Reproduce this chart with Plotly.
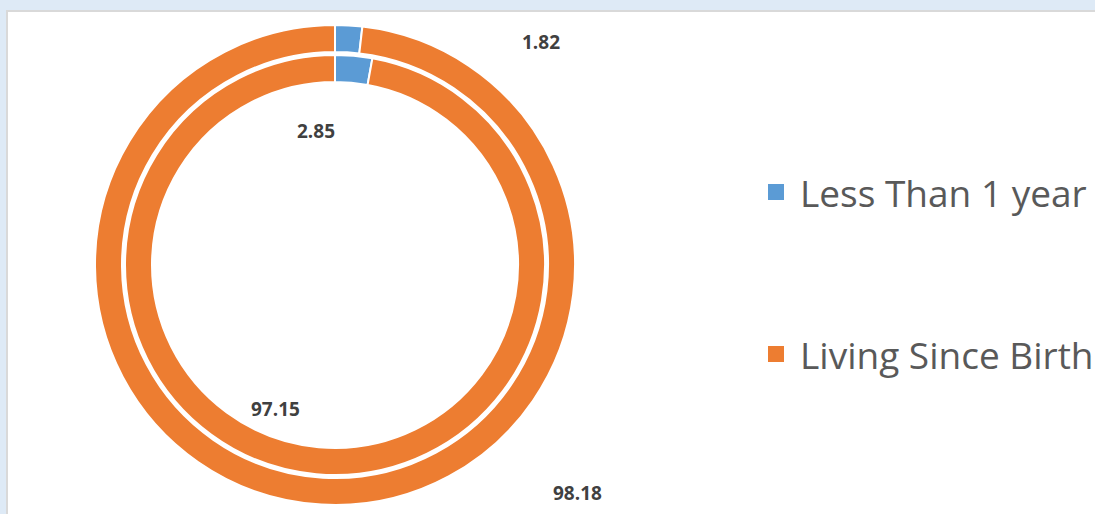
import plotly.graph_objects as go

# Residence duration shares (%), two rings
categories = ["Less Than 1 year", "Living Since Birth"]
outer_values = [1.82, 98.18]
inner_values = [2.85, 97.15]
colors = ["#5B9BD5", "#ED7D31"]

W, H = 1095, 514


def px_x(x):
    return x / W


def px_y(y):
    return (H - y) / H


def ring_domain(cx, cy, r):
    return dict(x=[px_x(cx - r), px_x(cx + r)], y=[px_y(cy + r), px_y(cy - r)])


cx, cy = 335, 265

fig = go.Figure()
fig.add_trace(go.Pie(
    labels=categories, values=outer_values, hole=213 / 240,
    domain=ring_domain(cx, cy, 240), sort=False, direction="clockwise",
    rotation=0, textinfo="none", hoverinfo="label+value",
    marker=dict(colors=colors, line=dict(color="white", width=2)),
    showlegend=False,
))
fig.add_trace(go.Pie(
    labels=categories, values=inner_values, hole=183 / 210,
    domain=ring_domain(cx, cy, 210), sort=False, direction="clockwise",
    rotation=0, textinfo="none", hoverinfo="label+value",
    marker=dict(colors=colors, line=dict(color="white", width=2)),
    showlegend=False,
))

# Data labels
label_font = dict(family="'Open Sans', sans-serif", size=19, color="#404040")
label_pos = {
    ("outer", 0): (541, 42), ("outer", 1): (577, 493),
    ("inner", 0): (316, 131), ("inner", 1): (275, 409),
}
annotations = []
for ring, vals in (("outer", outer_values), ("inner", inner_values)):
    for i, v in enumerate(vals):
        x, y = label_pos[(ring, i)]
        annotations.append(dict(
            x=px_x(x), y=px_y(y), xref="paper", yref="paper",
            text=f"<b>{v:.2f}</b>", showarrow=False, font=label_font,
            xanchor="center", yanchor="middle",
        ))

# Legend drawn as swatches and text
shapes = [
    dict(type="rect", xref="paper", yref="paper",
         x0=px_x(7), x1=px_x(1110), y0=px_y(530), y1=px_y(11),
         fillcolor="white", line=dict(color="#D9D9D9", width=2), layer="below"),
]
legend_rows = [192, 354]
for name, color, y in zip(categories, colors, legend_rows):
    shapes.append(dict(type="rect", xref="paper", yref="paper",
                       x0=px_x(768), x1=px_x(784), y0=px_y(y + 8), y1=px_y(y - 8),
                       fillcolor=color, line=dict(width=0)))
    annotations.append(dict(
        x=px_x(798), y=px_y(y), xref="paper", yref="paper", text=name,
        showarrow=False, xanchor="left", yanchor="middle",
        font=dict(family="'Open Sans', sans-serif", size=37, color="#595959"),
    ))

fig.update_layout(
    width=W, height=H, margin=dict(l=0, r=0, t=0, b=0),
    paper_bgcolor="#DEEAF6", plot_bgcolor="white",
    shapes=shapes, annotations=annotations, showlegend=False,
)

fig.write_html("out.html")
